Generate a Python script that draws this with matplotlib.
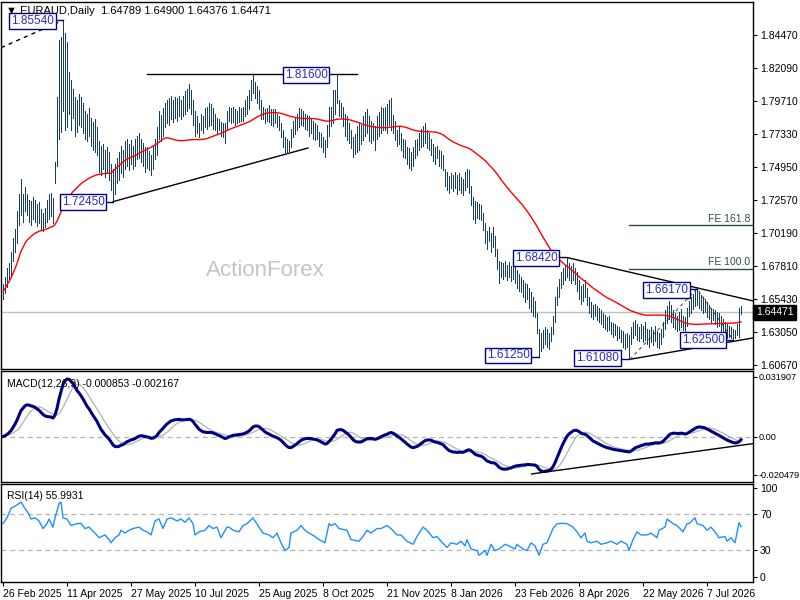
import matplotlib.pyplot as plt
import numpy as np
import pandas as pd

plt.rcParams['font.family'] = ['Liberation Sans', 'DejaVu Sans']

# daily EURAUD bars (low / high)
lows = [
    1.6540, 1.6585, 1.6630, 1.6680, 1.6705, 1.6820, 1.6880, 1.6950, 1.7080, 1.7150,
    1.7100, 1.7180, 1.7150, 1.7100, 1.7080, 1.7120, 1.7100, 1.7070, 1.7090, 1.7040,
    1.7030, 1.7060, 1.7100, 1.7120, 1.7140, 1.7090, 1.7380, 1.7500, 1.7700, 1.7750,
    1.7900, 1.7760, 1.7780, 1.7880, 1.7760, 1.7850, 1.7720, 1.7750, 1.7800, 1.7780,
    1.7740, 1.7700, 1.7680, 1.7720, 1.7650, 1.7620, 1.7600, 1.7580, 1.7460, 1.7440,
    1.7480, 1.7420, 1.7450, 1.7400, 1.7330, 1.7245, 1.7300, 1.7380, 1.7400, 1.7450,
    1.7420, 1.7480, 1.7500, 1.7470, 1.7520, 1.7480, 1.7500, 1.7550, 1.7560, 1.7530,
    1.7500, 1.7460, 1.7490, 1.7470, 1.7440, 1.7480, 1.7550, 1.7580, 1.7700, 1.7680,
    1.7720, 1.7780, 1.7810, 1.7800, 1.7840, 1.7820, 1.7850, 1.7830, 1.7860, 1.7840,
    1.7860, 1.7880, 1.7900, 1.7920, 1.7880, 1.7800, 1.7720, 1.7740, 1.7710, 1.7760,
    1.7740, 1.7780, 1.7770, 1.7790, 1.7800, 1.7770, 1.7760, 1.7740, 1.7760, 1.7720,
    1.7710, 1.7670, 1.7760, 1.7830, 1.7810, 1.7820, 1.7800, 1.7810, 1.7820, 1.7830,
    1.7830, 1.7860, 1.7880, 1.7910, 1.7980, 1.8030, 1.7990, 1.7960, 1.7910, 1.7840,
    1.7840, 1.7810, 1.7830, 1.7820, 1.7800, 1.7790, 1.7810, 1.7780, 1.7760, 1.7710,
    1.7640, 1.7600, 1.7595, 1.7610, 1.7640, 1.7710, 1.7730, 1.7760, 1.7780, 1.7800,
    1.7790, 1.7770, 1.7760, 1.7720, 1.7740, 1.7700, 1.7690, 1.7700, 1.7650, 1.7640,
    1.7600, 1.7570, 1.7640, 1.7720, 1.7790, 1.7810, 1.7880, 1.7960, 1.7860, 1.7850,
    1.7790, 1.7720, 1.7690, 1.7670, 1.7630, 1.7570, 1.7590, 1.7600, 1.7620, 1.7660,
    1.7690, 1.7720, 1.7740, 1.7680, 1.7670, 1.7690, 1.7620, 1.7700, 1.7720, 1.7740,
    1.7760, 1.7760, 1.7740, 1.7800, 1.7760, 1.7740, 1.7690, 1.7650, 1.7660, 1.7620,
    1.7570, 1.7560, 1.7520, 1.7490, 1.7470, 1.7500, 1.7560, 1.7580, 1.7620, 1.7640,
    1.7650, 1.7670, 1.7630, 1.7620, 1.7580, 1.7540, 1.7520, 1.7560, 1.7500, 1.7490,
    1.7470, 1.7360, 1.7330, 1.7310, 1.7340, 1.7320, 1.7340, 1.7300, 1.7330, 1.7310,
    1.7290, 1.7330, 1.7350, 1.7310, 1.7220, 1.7120, 1.7090, 1.7130, 1.7120, 1.7110,
    1.7040, 1.6950, 1.6900, 1.6960, 1.6880, 1.6920, 1.6850, 1.6760, 1.6660, 1.6700,
    1.6690, 1.6710, 1.6680, 1.6700, 1.6670, 1.6690, 1.6660, 1.6620, 1.6600, 1.6590,
    1.6560, 1.6520, 1.6540, 1.6480, 1.6450, 1.6420, 1.6410, 1.6300, 1.6125, 1.6170,
    1.6190, 1.6220, 1.6200, 1.6180, 1.6240, 1.6290, 1.6380, 1.6500, 1.6560, 1.6620,
    1.6650, 1.6680, 1.6700, 1.6680, 1.6660, 1.6680, 1.6650, 1.6600, 1.6540, 1.6510,
    1.6530, 1.6560, 1.6500, 1.6440, 1.6410, 1.6400, 1.6420, 1.6390, 1.6380, 1.6360,
    1.6340, 1.6330, 1.6310, 1.6320, 1.6290, 1.6270, 1.6280, 1.6250, 1.6260, 1.6230,
    1.6200, 1.6180, 1.6200, 1.6108, 1.6220, 1.6260, 1.6280, 1.6250, 1.6240, 1.6260,
    1.6230, 1.6250, 1.6220, 1.6200, 1.6230, 1.6210, 1.6240, 1.6200, 1.6190, 1.6220,
    1.6270, 1.6330, 1.6370, 1.6400, 1.6380, 1.6340, 1.6330, 1.6310, 1.6320, 1.6340,
    1.6320, 1.6300, 1.6350, 1.6420, 1.6440, 1.6470, 1.6490, 1.6500, 1.6480, 1.6460,
    1.6440, 1.6450, 1.6410, 1.6400, 1.6380, 1.6390, 1.6360, 1.6340, 1.6350, 1.6310,
    1.6300, 1.6280, 1.6260, 1.6270, 1.6260, 1.6250, 1.6262, 1.6280, 1.6270, 1.64376,
]
highs = [
    1.6650, 1.6700, 1.6765, 1.6800, 1.6880, 1.6980, 1.7050, 1.7180, 1.7300, 1.7410,
    1.7300, 1.7350, 1.7300, 1.7260, 1.7250, 1.7280, 1.7260, 1.7230, 1.7240, 1.7190,
    1.7160, 1.7200, 1.7260, 1.7300, 1.7310, 1.7270, 1.7530, 1.8000, 1.8410, 1.8430,
    1.8554, 1.8460, 1.8400, 1.8180, 1.8120, 1.8060, 1.8000, 1.7980, 1.8020, 1.8000,
    1.7960, 1.7900, 1.7880, 1.7920, 1.7850, 1.7820, 1.7840, 1.7780, 1.7680, 1.7650,
    1.7660, 1.7620, 1.7640, 1.7600, 1.7520, 1.7480, 1.7520, 1.7560, 1.7600, 1.7650,
    1.7620, 1.7680, 1.7700, 1.7660, 1.7690, 1.7650, 1.7700, 1.7720, 1.7740, 1.7700,
    1.7670, 1.7640, 1.7640, 1.7610, 1.7580, 1.7650, 1.7700, 1.7780, 1.7900, 1.7870,
    1.7920, 1.7960, 1.7980, 1.7990, 1.8010, 1.7980, 1.8000, 1.7990, 1.8010, 1.7980,
    1.8010, 1.8040, 1.8060, 1.8090, 1.8050, 1.7980, 1.7900, 1.7860, 1.7810, 1.7880,
    1.7860, 1.7920, 1.7930, 1.7960, 1.7950, 1.7920, 1.7880, 1.7850, 1.7840, 1.7820,
    1.7810, 1.7810, 1.7900, 1.7930, 1.7920, 1.7930, 1.7910, 1.7900, 1.7930, 1.7920,
    1.7930, 1.7980, 1.8010, 1.8050, 1.8120, 1.8160, 1.8110, 1.8080, 1.8050, 1.7980,
    1.7930, 1.7910, 1.7920, 1.7940, 1.7910, 1.7910, 1.7910, 1.7880, 1.7860, 1.7810,
    1.7760, 1.7710, 1.7700, 1.7680, 1.7770, 1.7830, 1.7850, 1.7880, 1.7920, 1.7910,
    1.7900, 1.7880, 1.7870, 1.7860, 1.7840, 1.7830, 1.7810, 1.7800, 1.7750, 1.7740,
    1.7710, 1.7690, 1.7800, 1.7930, 1.7930, 1.8050, 1.8050, 1.8160, 1.7980, 1.7960,
    1.7930, 1.7880, 1.7860, 1.7810, 1.7760, 1.7710, 1.7730, 1.7790, 1.7810, 1.7800,
    1.7860, 1.7890, 1.7910, 1.7860, 1.7830, 1.7810, 1.7790, 1.7860, 1.7890, 1.7930,
    1.7920, 1.7930, 1.7950, 1.7980, 1.7990, 1.7870, 1.7830, 1.7760, 1.7780, 1.7740,
    1.7700, 1.7690, 1.7640, 1.7630, 1.7600, 1.7640, 1.7690, 1.7700, 1.7740, 1.7770,
    1.7790, 1.7810, 1.7760, 1.7740, 1.7700, 1.7660, 1.7640, 1.7650, 1.7620, 1.7610,
    1.7580, 1.7480, 1.7460, 1.7430, 1.7450, 1.7440, 1.7460, 1.7440, 1.7450, 1.7420,
    1.7410, 1.7460, 1.7480, 1.7470, 1.7360, 1.7280, 1.7250, 1.7240, 1.7230, 1.7220,
    1.7160, 1.7090, 1.7030, 1.7060, 1.7020, 1.7060, 1.7000, 1.6900, 1.6820, 1.6810,
    1.6800, 1.6820, 1.6790, 1.6810, 1.6780, 1.6800, 1.6780, 1.6750, 1.6720, 1.6700,
    1.6680, 1.6660, 1.6650, 1.6620, 1.6590, 1.6560, 1.6530, 1.6440, 1.6330, 1.6300,
    1.6320, 1.6340, 1.6330, 1.6300, 1.6340, 1.6420, 1.6560, 1.6630, 1.6690, 1.6740,
    1.6770, 1.6790, 1.6842, 1.6800, 1.6780, 1.6800, 1.6770, 1.6740, 1.6680, 1.6640,
    1.6650, 1.6680, 1.6620, 1.6560, 1.6520, 1.6500, 1.6510, 1.6490, 1.6480, 1.6460,
    1.6440, 1.6430, 1.6410, 1.6420, 1.6380, 1.6370, 1.6360, 1.6350, 1.6340, 1.6320,
    1.6310, 1.6290, 1.6300, 1.6280, 1.6340, 1.6380, 1.6390, 1.6360, 1.6340, 1.6360,
    1.6350, 1.6380, 1.6330, 1.6320, 1.6340, 1.6320, 1.6350, 1.6310, 1.6300, 1.6330,
    1.6380, 1.6460, 1.6490, 1.6530, 1.6500, 1.6460, 1.6440, 1.6420, 1.6450, 1.6470,
    1.6420, 1.6410, 1.6480, 1.6530, 1.6560, 1.6580, 1.6600, 1.6617, 1.6590, 1.6570,
    1.6560, 1.6540, 1.6520, 1.6500, 1.6480, 1.6470, 1.6460, 1.6450, 1.6440, 1.6420,
    1.6400, 1.6380, 1.6360, 1.6350, 1.6340, 1.6330, 1.6320, 1.6360, 1.6480, 1.64900,
]

# RSI(14): bar number, value
rsi_bars = [0, 2, 4, 7, 9, 11, 13, 14, 16, 18, 20, 22, 23, 25, 26, 28, 29, 30, 32, 34,
            37, 39, 41, 43, 46, 48, 51, 53, 54, 56, 58, 59, 61, 63, 65, 68, 70, 72, 74, 76,
            78, 80, 82, 84, 87, 89, 91, 93, 95, 96, 98, 101, 103, 105, 107, 109, 112, 113,
            115, 118, 120, 122, 125, 128, 130, 133, 135, 137, 139, 141, 143, 144, 147, 149,
            151, 153, 156, 158, 161, 163, 164, 166, 168, 172, 174, 178, 180, 182, 184, 187,
            189, 192, 194, 197, 199, 202, 205, 207, 210, 212, 215, 217, 219, 222, 224, 227,
            229, 231, 232, 234, 237, 238, 241, 242, 244, 246, 248, 251, 253, 256, 257, 260,
            262, 264, 266, 268, 270, 272, 275, 277, 280, 282, 285, 287, 289, 291, 292, 294,
            297, 299, 302, 304, 307, 309, 312, 313, 315, 317, 319, 322, 324, 327, 328, 331,
            332, 335, 337, 340, 342, 343, 346, 347, 350, 352, 354, 356, 358, 361, 362, 364,
            366, 368, 369]
rsi_values = [59.5, 66.0, 76.6, 80.5, 83.7, 76.6, 70.0, 64.7, 66.0, 62.6, 54.0, 59.5, 64.7,
              55.6, 66.0, 81.9, 83.7, 66.0, 64.7, 57.4, 59.5, 59.8, 54.0, 55.6, 48.9, 43.7,
              46.8, 41.6, 38.0, 43.7, 46.8, 52.1, 48.9, 52.1, 54.0, 55.6, 52.1, 50.3, 46.8,
              62.6, 64.7, 54.0, 64.7, 66.0, 62.6, 64.7, 60.9, 66.0, 59.5, 46.8, 50.3, 52.1,
              57.4, 54.0, 55.6, 43.7, 55.6, 55.6, 52.1, 50.3, 57.4, 59.5, 66.0, 55.6, 48.9,
              46.8, 43.7, 48.9, 38.0, 29.3, 32.8, 48.9, 52.1, 57.4, 52.1, 48.9, 45.1, 41.6,
              38.0, 59.5, 57.4, 59.5, 54.0, 52.1, 41.6, 39.8, 45.1, 52.1, 48.9, 54.0, 54.0,
              57.4, 54.0, 46.8, 46.8, 39.8, 36.3, 45.1, 55.6, 52.1, 43.7, 45.1, 39.8, 32.8,
              38.0, 36.3, 39.8, 34.5, 41.6, 31.0, 29.3, 24.0, 29.3, 24.0, 36.3, 29.3, 31.0,
              36.3, 34.5, 31.0, 36.3, 31.0, 29.3, 38.0, 34.5, 24.0, 36.3, 38.0, 54.0, 59.5,
              59.8, 59.5, 55.6, 50.3, 43.7, 48.9, 39.8, 38.0, 39.8, 36.3, 38.0, 39.8, 36.3,
              39.8, 36.3, 29.3, 41.6, 50.3, 46.8, 46.8, 48.9, 43.7, 52.1, 55.6, 64.7, 59.5,
              57.4, 50.3, 59.5, 59.5, 66.0, 59.5, 57.4, 52.1, 55.6, 50.3, 43.7, 45.1, 39.8,
              43.7, 38.0, 60.5, 55.99]

date_labels = ['26 Feb 2025', '11 Apr 2025', '27 May 2025', '10 Jul 2025',
               '25 Aug 2025', '8 Oct 2025', '21 Nov 2025', '8 Jan 2026',
               '23 Feb 2026', '8 Apr 2026', '22 May 2026', '7 Jul 2026']
price_ticks = [1.84470, 1.82090, 1.79710, 1.77330, 1.74950, 1.72570,
               1.70190, 1.67810, 1.65430, 1.63050, 1.60670]
last_price = 1.64471
fe_levels = {'FE 161.8': 1.70736, 'FE 100.0': 1.67590}

# MA and MACD on median price
n = len(highs)
idx = np.arange(n)
mid = pd.Series((np.array(highs) + np.array(lows)) / 2)
ma = mid.rolling(55, min_periods=1).mean()
ema12 = mid.ewm(span=12, adjust=False).mean()
ema26 = mid.ewm(span=26, adjust=False).mean()
macd = ema12 - ema26
signal = macd.rolling(9, min_periods=1).mean()

W, H = 800, 600


def box(x0, y0, x1, y1):
    return [x0 / W, 1 - y1 / H, (x1 - x0) / W, (y1 - y0) / H]


fig = plt.figure(figsize=(8, 6), dpi=100)
ax1 = fig.add_axes(box(1, 2, 753, 369))
ax2 = fig.add_axes(box(1, 371, 753, 482))
ax3 = fig.add_axes(box(1, 484, 753, 582))
for ax in (ax1, ax2, ax3):
    ax.set_xlim(-1, 375)
    ax.yaxis.tick_right()
    ax.tick_params(axis='y', labelsize=7.5, length=3, pad=2, width=0.8)
    ax.tick_params(axis='x', length=0, labelbottom=False)
    for sp in ax.spines.values():
        sp.set_color('black')
        sp.set_linewidth(1)

bar_color = '#17405c'
navy = '#000080'
label_blue = '#2b2bc8'

# ---- main price panel
ax1.set_ylim(1.6038, 1.8685)
ax1.set_yticks(price_ticks)
ax1.set_yticklabels(['%.5f' % p for p in price_ticks])
ax1.text(131, 1.6745, 'ActionForex', fontsize=16, color='#c4c4c4',
         ha='center', va='center', zorder=0)
ax1.axhline(last_price, color='#c0c0c0', lw=1, zorder=1)
ax1.vlines(idx, lows, highs, color=bar_color, lw=0.5, antialiased=False, zorder=3)
ax1.plot(idx, ma, color='red', lw=1, zorder=4)

# trend lines
ax1.plot([-1, 30], [1.8355, 1.8554], color='black', lw=1, ls=(0, (3, 3)), zorder=2)
ax1.plot([72, 177], [1.8163, 1.8163], color='black', lw=1, zorder=2)
ax1.plot([55, 152.5], [1.7245, 1.7632], color='black', lw=1, zorder=2)
ax1.plot([276.5, 282, 375], [1.6842, 1.6842, 1.6529], color='black', lw=1, zorder=2)
ax1.plot([313.5, 375], [1.6108, 1.6262], color='black', lw=1, zorder=2)
ax1.plot([313.5, 347, 365], [1.6108, 1.6617, 1.6250], color='#555555', lw=0.8,
         ls=(0, (3, 3)), zorder=2)
for name, lvl in fe_levels.items():
    ax1.plot([313, 374.5], [lvl, lvl], color='#2f4f4f', lw=1, zorder=2)
    ax1.text(373.5, lvl + 0.0012, name, fontsize=7.5, color='#2f4f4f',
             ha='right', va='bottom')

# price labels (text, text x, text y, tip x0, tip x1, tip y)
notes = [('1.85540', 14.8, 1.8548, 25.0, 30.0, 1.8554),
         ('1.81600', 151.5, 1.8159, None, None, None),
         ('1.72450', 40.0, 1.7243, 50.5, 55.0, 1.7245),
         ('1.68420', 266.5, 1.6839, None, None, None),
         ('1.66170', 331.8, 1.6608, 342.0, 347.0, 1.6617),
         ('1.61250', 252.5, 1.6136, 262.5, 268.0, 1.6125),
         ('1.61080', 297.3, 1.6117, 307.5, 313.0, 1.6108),
         ('1.62500', 350.0, 1.6247, 360.0, 365.0, 1.6250)]
for txt, tx, ty, a, b, py in notes:
    if a is not None:
        ax1.plot([a, b], [py, py], color=navy, lw=1, zorder=5)
    ax1.text(tx, ty, txt, fontsize=8.5, color=label_blue, ha='center', va='center',
             zorder=6, bbox=dict(boxstyle='square,pad=0.15', fc='white', ec=navy, lw=1))

ax1.text(1.004, last_price, '%.5f' % last_price, transform=ax1.get_yaxis_transform(),
         fontsize=7.5, color='white', ha='left', va='center', clip_on=False,
         bbox=dict(boxstyle='square,pad=0.25', fc='black', ec='black'))
fig.text(6 / W, 1 - 11 / H, '\u25bc EURAUD,Daily  1.64789 1.64900 1.64376 1.64471',
         fontsize=8, va='center')

# ---- MACD panel
ax2.set_ylim(-0.0243, 0.0350)
ax2.set_yticks([0.031907, 0.0, -0.020479])
ax2.set_yticklabels(['0.031907', '0.00', '-0.020479'])
ax2.tick_params(axis='y', labelsize=6.6, pad=1)
ax2.axhline(0, color='#b4b4b4', lw=0.9, ls=(0, (4, 3)))
ax2.plot(idx, signal, color='#b8b8b8', lw=1)
ax2.plot(idx, macd, color=navy, lw=2.2)
ax2.plot([264.3, 375], [-0.0200, -0.0038], color='black', lw=1)
ax2.text(0.008, 0.93, 'MACD(12,26,9) -0.000853 -0.002167', transform=ax2.transAxes,
         fontsize=7.5, va='top')

# ---- RSI panel
ax3.set_ylim(-6, 104)
ax3.set_yticks([100, 70, 30, 0])
ax3.set_yticklabels(['100', '70', '30', '0'])
for lvl in (70, 30):
    ax3.axhline(lvl, color='#b4b4b4', lw=0.9, ls=(0, (4, 3)))
ax3.plot(rsi_bars, rsi_values, color='#1e90ff', lw=1)
ax3.text(0.008, 0.93, 'RSI(14) 55.9931', transform=ax3.transAxes, fontsize=7.5, va='top')
ax3.set_xticks(np.arange(len(date_labels)) * 32)
ax3.set_xticklabels(date_labels, ha='left')
ax3.tick_params(axis='x', length=3, labelbottom=True, labelsize=7.5, pad=2)

fig.savefig('out.png', dpi=100)
